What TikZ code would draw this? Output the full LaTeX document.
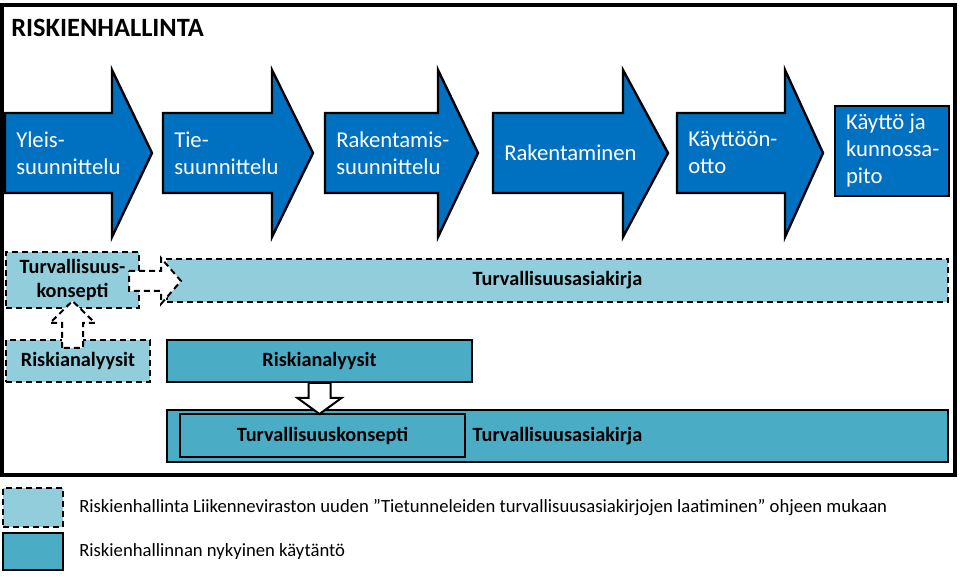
\documentclass[tikz,border=0pt]{standalone}
\usepackage{fontspec}
\setmainfont{Carlito}
\usepackage{tikz}
\usetikzlibrary{calc,fit,positioning}

\definecolor{phaseblue}{RGB}{0,112,192}
\definecolor{lightaqua}{RGB}{146,205,220}
\definecolor{aqua}{RGB}{75,172,198}

\begin{document}
\begin{tikzpicture}[x=0.75pt,y=-0.75pt,line join=miter]
    \tikzstyle{phase}=[draw=black, line width=1.8pt, fill=phaseblue]
    \tikzstyle{phasetext}=[anchor=west, inner sep=0pt, align=left, text=white, font=\fontsize{17}{20.25}\selectfont]
    \tikzstyle{newbox}=[draw=black, fill=lightaqua, line width=1.5pt, dash pattern=on 4.5pt off 3pt, inner sep=0pt]
    \tikzstyle{oldbox}=[draw=black, fill=aqua, line width=1.5pt, inner sep=0pt]
    \tikzstyle{boxtext}=[inner sep=0pt, align=center, font=\bfseries\fontsize{15.2}{17.5}\selectfont]
    \tikzstyle{blockarr}=[draw=black, fill=white, line width=1.5pt]
    \tikzstyle{legtext}=[anchor=west, inner sep=0pt, font=\fontsize{14}{17}\selectfont]

    \useasboundingbox (0,0) rectangle (960,580);
    \draw[line width=2.4pt] (2,5) rectangle (955,475);
    \node[anchor=west, inner sep=0pt, font=\bfseries\fontsize{19.8}{22}\selectfont] (title) at (11,28) {RISKIENHALLINTA};

    % vaiheet
    \foreach \xa/\xb/\xc/\nm/\txt in {5/112/152/yleis/{Yleis-\\suunnittelu},
        163/272/313/tie/{Tie-\\suunnittelu},
        325/438/478/raksuun/{Rakentamis-\\suunnittelu},
        493/623/668/rak/{Rakentaminen},
        677/785/823/kayttoon/{Käyttöön-\\otto}}
    {
      \draw[phase] (\xa,113) -- (\xb,113) -- (\xb,70) -- (\xc,153) -- (\xb,237) -- (\xb,193) -- (\xa,193) -- cycle;
      \node[phasetext] (\nm) at (\xa+11,153) {\txt};
    }
    \node[phase, fit={(835,106) (949,196)}, inner sep=0pt] (kaytto) {};
    \node[phasetext, right=9pt of kaytto.west] (kayttoteksti) {Käyttö ja\\kunnossa-\\pito};

    % laatikot
    \node[newbox, fit={(6,252) (139,308)}] (konsD) {};
    \node[newbox, fit={(167,259) (948,302)}] (kirjaD) {};
    \node[newbox, fit={(6,340) (150,382)}] (riskD) {};
    \node[oldbox, fit={(167,340) (472,382)}] (riskB) {};
    \node[oldbox, fit={(167,410) (948,462)}] (kirjaB) {};
    \node[oldbox, fit={(180,414) (465,457)}] (konsB) {};
    \node[boxtext] (kirjaDteksti) at (kirjaD.center) {Turvallisuusasiakirja};
    \node[boxtext] (riskBteksti) at (riskB.center) {Riskianalyysit};
    \node[boxtext] (kirjaBteksti) at (kirjaB.center) {Turvallisuusasiakirja};
    \node[boxtext] (konsBteksti) at (konsB.center) {Turvallisuuskonsepti};

    % nuolet
    \draw[blockarr, dash pattern=on 4.5pt off 3pt] ($(konsD.east)+(-11,-9)$) -- ++(32,0) -- ++(0,-13) -- ++(20,23) -- ++(-20,23) -- ++(0,-13) -- ++(-32,0) -- cycle;
    \draw[blockarr, dash pattern=on 4.5pt off 3pt] ($(konsD.south)+(-10.5,39)$) -- ++(0,-25) -- ++(-12,0) -- ++(22.5,-22) -- ++(22.5,22) -- ++(-12,0) -- ++(0,25) -- cycle;
    \draw[blockarr] ($(riskB.south)+(-11,0)$) -- ++(0,15) -- ++(-11,0) -- ++(22,16) -- ++(22,-16) -- ++(-11,0) -- ++(0,-15) -- cycle;
    \node[boxtext] (konsDteksti) at (konsD.center) {Turvallisuus-\\konsepti};
    \node[boxtext] (riskDteksti) at (riskD.center) {Riskianalyysit};

    % selite
    \node[newbox, fit={(3,488) (63,527)}] (legD) {};
    \node[oldbox, fit={(3,533) (63,570)}] (legB) {};
    \node[legtext] (legDteksti) at ($(legD.east)+(15,0)$) {Riskienhallinta Liikenneviraston uuden ”Tietunneleiden turvallisuusasiakirjojen laatiminen” ohjeen mukaan};
    \node[legtext] (legBteksti) at ($(legB.east)+(15,0)$) {Riskienhallinnan nykyinen käytäntö};

\end{tikzpicture}
\end{document}
